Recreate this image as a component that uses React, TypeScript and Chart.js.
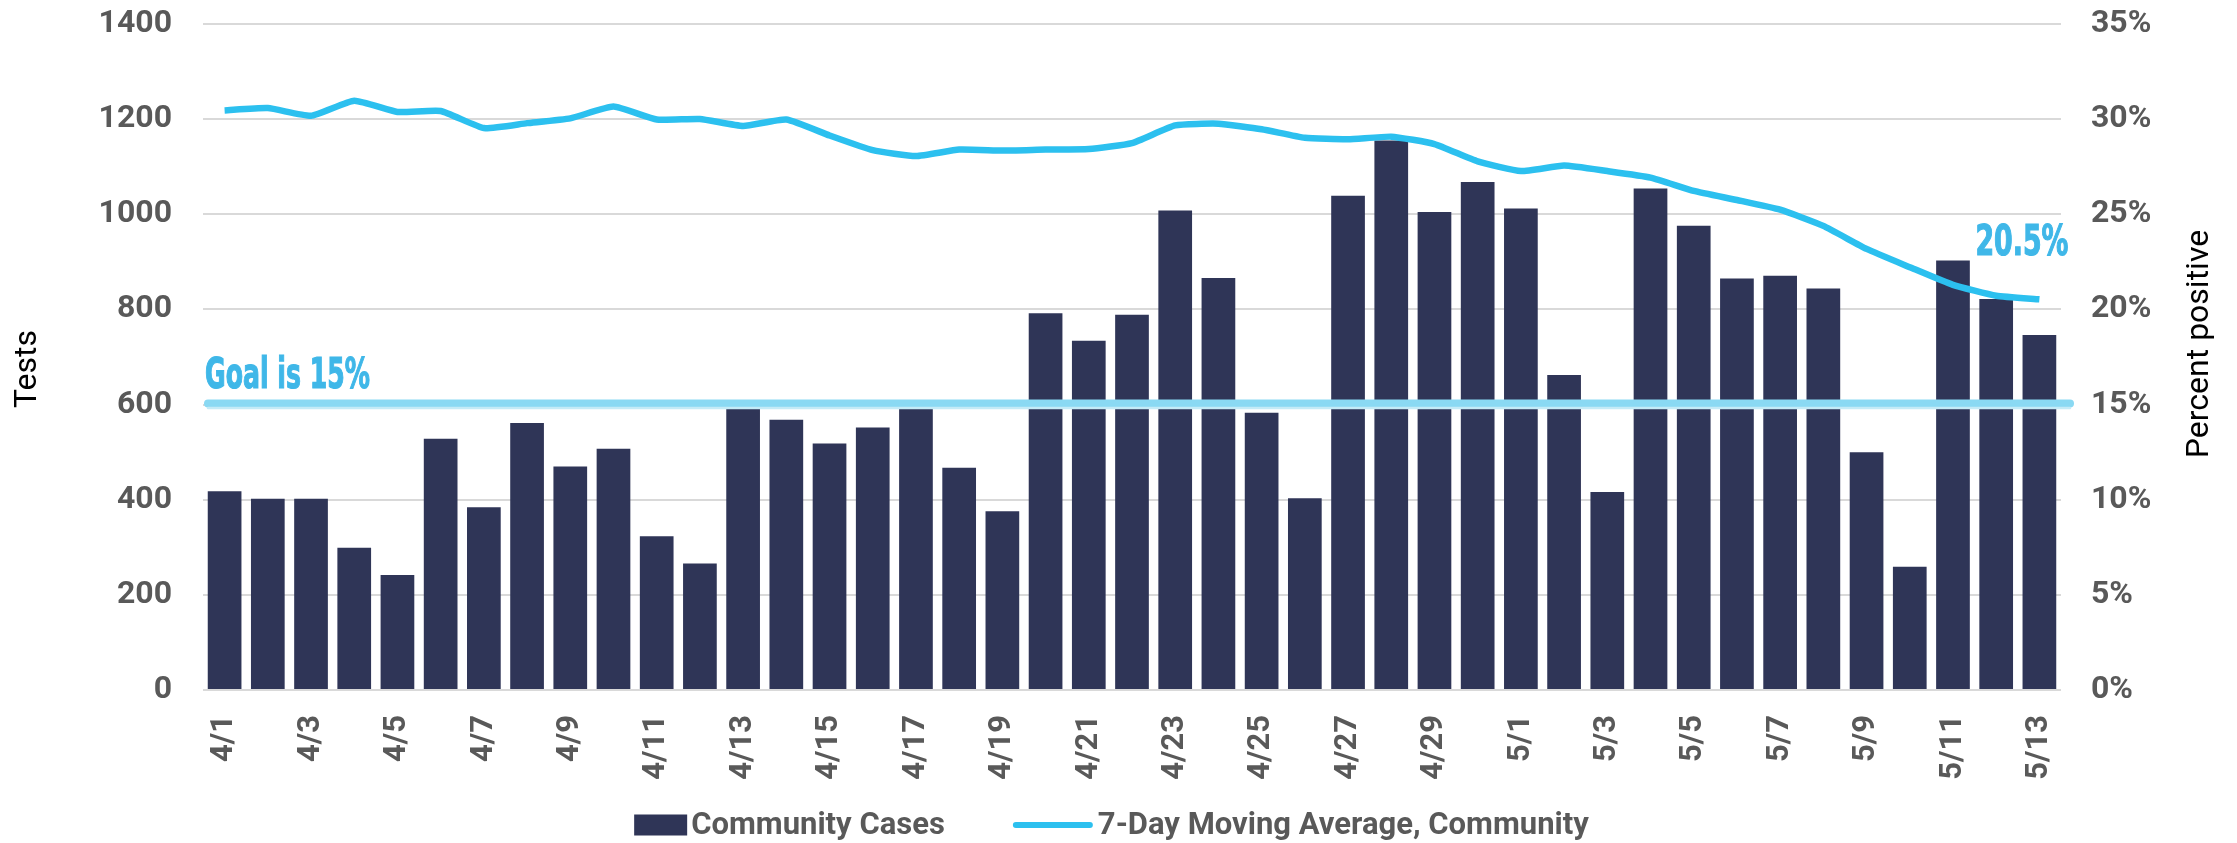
import React, { useEffect, useRef } from 'react';
import { Chart, registerables } from 'chart.js';

Chart.register(...registerables);

const categories = [
  '4/1', '4/2', '4/3', '4/4', '4/5', '4/6', '4/7', '4/8', '4/9', '4/10',
  '4/11', '4/12', '4/13', '4/14', '4/15', '4/16', '4/17', '4/18', '4/19', '4/20',
  '4/21', '4/22', '4/23', '4/24', '4/25', '4/26', '4/27', '4/28', '4/29', '4/30',
  '5/1', '5/2', '5/3', '5/4', '5/5', '5/6', '5/7', '5/8', '5/9', '5/10',
  '5/11', '5/12', '5/13',
];

const communityCases = [
  418, 402, 402, 299, 242, 528, 384, 561, 470, 507,
  323, 266, 597, 568, 518, 552, 609, 467, 376, 792,
  734, 789, 1008, 866, 583, 403, 1039, 1155, 1005, 1068,
  1012, 662, 416, 1054, 976, 865, 871, 844, 500, 259,
  903, 822, 746,
];

const movingAverage = [
  30.46, 30.58, 30.18, 30.97, 30.38, 30.43, 29.53, 29.79, 30.04, 30.66,
  29.98, 30.01, 29.64, 29.98, 29.14, 28.37, 28.06, 28.4, 28.35, 28.4,
  28.43, 28.74, 29.67, 29.76, 29.47, 29.02, 28.94, 29.08, 28.69, 27.78,
  27.27, 27.56, 27.27, 26.93, 26.23, 25.75, 25.24, 24.39, 23.18, 22.22,
  21.29, 20.72, 20.53,
];

const GOAL = 15;
const goalLabel = 'Goal is 15%';
const seriesNames = ['Community Cases', '7-Day Moving Average, Community'];
const axisTitles = { left: 'Tests', right: 'Percent positive' };

const NAVY = '#2f3557';
const CYAN = '#2cc0ef';
const LABEL_BLUE = '#3fb7e8';
const TICK_GRAY = '#595959';
const FONT = 'Roboto, "Liberation Sans", sans-serif';

function drawCondensed(
  ctx: CanvasRenderingContext2D,
  text: string,
  x: number,
  y: number,
  targetWidth: number,
  align: CanvasTextAlign
) {
  ctx.save();
  ctx.font = 'bold 42px "Liberation Sans Narrow", "DejaVu Sans Condensed", "Roboto Condensed", sans-serif';
  const w = ctx.measureText(text).width;
  const sx = w > 0 ? targetWidth / w : 1;
  ctx.translate(x, y);
  ctx.scale(sx, 1);
  ctx.textAlign = align;
  ctx.textBaseline = 'alphabetic';
  ctx.fillStyle = LABEL_BLUE;
  ctx.lineWidth = 1.2;
  ctx.strokeStyle = LABEL_BLUE;
  ctx.strokeText(text, 0, 0);
  ctx.fillText(text, 0, 0);
  ctx.restore();
}

function drawVerticalTitle(ctx: CanvasRenderingContext2D, text: string, x: number, y: number) {
  ctx.save();
  ctx.translate(x, y);
  ctx.rotate(-Math.PI / 2);
  ctx.font = `normal 32px ${FONT}`;
  ctx.fillStyle = '#000000';
  ctx.textAlign = 'center';
  ctx.textBaseline = 'middle';
  ctx.fillText(text, 0, 0);
  ctx.restore();
}

const overlayPlugin = {
  id: 'overlayPlugin',
  afterDatasetsDraw(chart: any) {
    const { ctx, chartArea, scales } = chart;
    const y = scales.y1.getPixelForValue(GOAL);
    ctx.save();
    ctx.lineCap = 'round';
    ctx.strokeStyle = '#8ad9f3';
    ctx.lineWidth = 8;
    ctx.beginPath();
    ctx.moveTo(chartArea.left + 5, y - 1);
    ctx.lineTo(chartArea.right + 9, y - 1);
    ctx.stroke();
    ctx.strokeStyle = '#c4ebf7';
    ctx.lineWidth = 2.5;
    ctx.beginPath();
    ctx.moveTo(chartArea.left + 5, y + 3.5);
    ctx.lineTo(chartArea.right + 9, y + 3.5);
    ctx.stroke();
    ctx.restore();

    drawCondensed(ctx, goalLabel, chartArea.left + 2, y - 17, 165, 'left');

    const meta = chart.getDatasetMeta(1);
    const pt = meta.data[meta.data.length - 1];
    if (pt) {
      const last = movingAverage[movingAverage.length - 1];
      drawCondensed(ctx, `${last.toFixed(1)}%`, pt.x + 29, pt.y - 44, 93, 'right');
    }
  },
  afterDraw(chart: any) {
    const { ctx, chartArea } = chart;
    const midY = (chartArea.top + chartArea.bottom) / 2;
    drawVerticalTitle(ctx, axisTitles.left, 28, midY + 12);
    drawVerticalTitle(ctx, axisTitles.right, chartArea.right + 139, midY - 13);

    // legend
    const legendY = 825;
    const boxW = 53;
    const boxH = 21;
    const lineW = 80;
    ctx.save();
    ctx.font = `bold 31px ${FONT}`;
    ctx.textBaseline = 'middle';
    ctx.textAlign = 'left';
    const t1 = ctx.measureText(seriesNames[0]).width;
    const t2 = ctx.measureText(seriesNames[1]).width;
    const total = boxW + 4 + t1 + 68 + lineW + 5 + t2;
    let x = chart.width / 2 - 7 - total / 2;
    ctx.fillStyle = NAVY;
    ctx.fillRect(x, legendY - boxH / 2, boxW, boxH);
    x += boxW + 4;
    ctx.fillStyle = TICK_GRAY;
    ctx.fillText(seriesNames[0], x, legendY + 1);
    x += t1 + 68;
    ctx.strokeStyle = CYAN;
    ctx.lineWidth = 6;
    ctx.lineCap = 'round';
    ctx.beginPath();
    ctx.moveTo(x + 3, legendY);
    ctx.lineTo(x + lineW - 3, legendY);
    ctx.stroke();
    x += lineW + 5;
    ctx.fillText(seriesNames[1], x, legendY + 1);
    ctx.restore();
  },
};

const fixVerticalPadding = (s: any) => {
  s.paddingTop = 24;
  s.paddingBottom = 0;
};

export default function App() {
  const canvasRef = useRef<HTMLCanvasElement | null>(null);

  useEffect(() => {
    document.body.style.margin = '0';
    const canvas = canvasRef.current;
    if (!canvas) return;
    Chart.defaults.font.family = FONT;

    const chart = new Chart(canvas, {
      type: 'bar',
      data: {
        labels: categories,
        datasets: [
          {
            type: 'bar',
            label: seriesNames[0],
            data: communityCases,
            backgroundColor: NAVY,
            borderWidth: 0,
            barPercentage: 0.78,
            categoryPercentage: 1.0,
            yAxisID: 'y',
            order: 2,
          } as any,
          {
            type: 'line',
            label: seriesNames[1],
            data: movingAverage,
            borderColor: CYAN,
            backgroundColor: CYAN,
            borderWidth: 6.5,
            pointRadius: 0,
            tension: 0.15,
            yAxisID: 'y1',
            order: 1,
          } as any,
        ],
      },
      options: {
        responsive: false,
        animation: false,
        layout: { padding: { top: 0, left: 0, right: 0, bottom: 0 } },
        plugins: {
          tooltip: { enabled: false },
          legend: { display: false },
        },
        scales: {
          x: {
            grid: { display: false, drawTicks: false },
            border: { display: false },
            ticks: {
              autoSkip: false,
              maxRotation: 90,
              minRotation: 90,
              padding: 25,
              color: TICK_GRAY,
              font: { size: 31, weight: 'bold' },
              callback: (_v: any, i: number) => (i % 2 === 0 ? categories[i] : ''),
            },
            afterFit: (s: any) => {
              s.height = 153;
              s.paddingLeft = 0;
              s.paddingRight = 0;
            },
          },
          y: {
            position: 'left',
            min: 0,
            max: 1400,
            ticks: {
              stepSize: 200,
              padding: 31,
              color: TICK_GRAY,
              font: { size: 32, weight: 'bold' },
              callback: (v: any) => String(v),
            },
            grid: { color: '#d9d9d9', lineWidth: 2, drawTicks: false },
            border: { display: false },
            afterFit: (s: any) => {
              s.width = 203;
              fixVerticalPadding(s);
            },
          },
          y1: {
            position: 'right',
            min: 0,
            max: 35,
            ticks: {
              stepSize: 5,
              padding: 30,
              color: TICK_GRAY,
              font: { size: 32, weight: 'bold' },
              callback: (v: any) => `${v}%`,
            },
            grid: { display: false, drawTicks: false },
            border: { display: false },
            afterFit: (s: any) => {
              s.width = 176;
              fixVerticalPadding(s);
            },
          },
        },
      } as any,
      plugins: [overlayPlugin],
    });

    return () => chart.destroy();
  }, []);

  return (
    <div style={{ position: 'absolute', left: 0, top: 0, width: 2237, height: 843 }}>
      <canvas ref={canvasRef} width={2237} height={843} />
    </div>
  );
}
